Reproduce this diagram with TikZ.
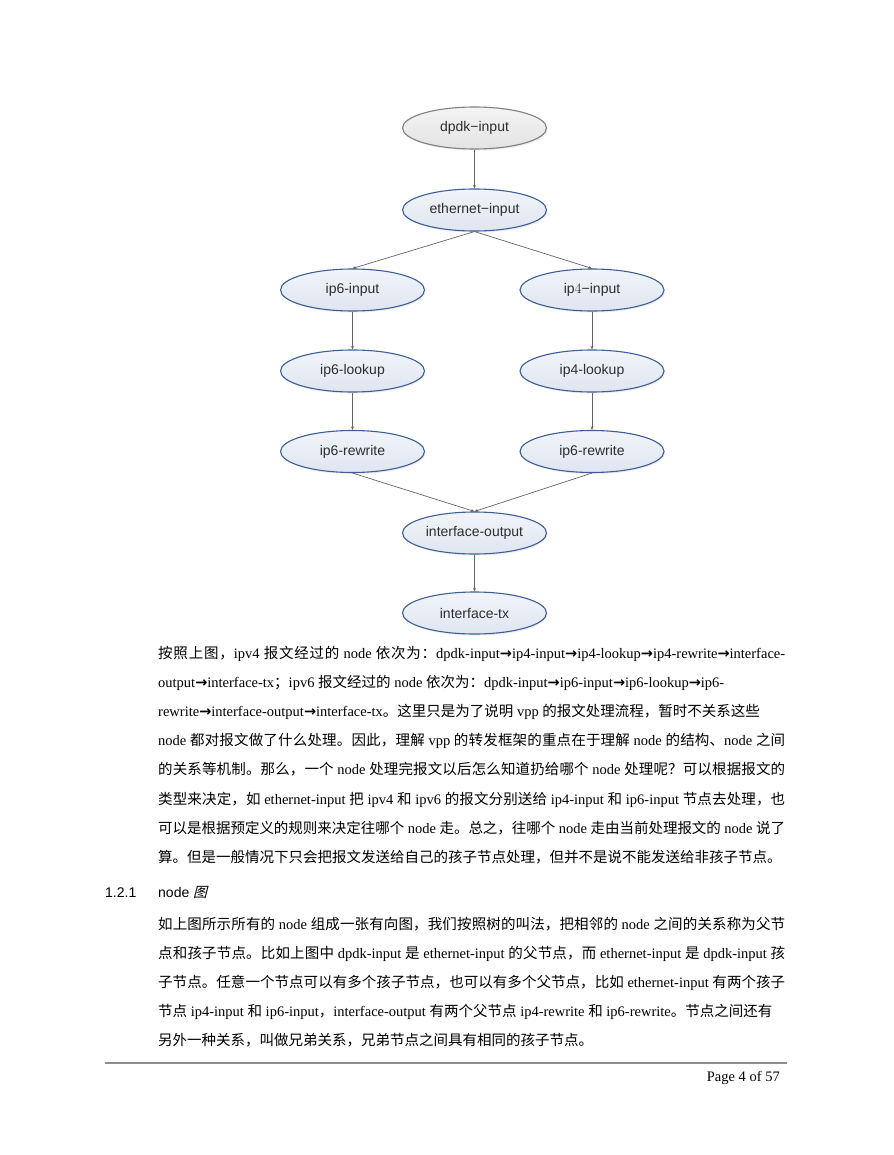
\documentclass[tikz,border=0pt]{standalone}
\usepackage{fontspec}
\setmainfont{Liberation Serif}
\newfontfamily\cjk{Noto Sans CJK SC}
\newfontfamily\cjksl{Noto Sans CJK SC}[FakeSlant=0.25]
\newfontfamily\diagf{Liberation Sans}
\newfontfamily\arrowf{DejaVu Sans}
\usetikzlibrary{shapes.geometric,arrows.meta,shadows}
\XeTeXinterchartokenstate=1
\newXeTeXintercharclass\cjkc
\newcount\mycnt
\mycnt="3000
\loop\ifnum\mycnt<"A000 \XeTeXcharclass\mycnt=\cjkc\advance\mycnt by 1\repeat
\mycnt="FF00
\loop\ifnum\mycnt<"FFF0 \XeTeXcharclass\mycnt=\cjkc\advance\mycnt by 1\repeat
\XeTeXinterchartoks\cjkc\cjkc={\hskip0pt plus 3pt minus 0.4pt\relax}
\newcommand\zh[1]{{\cjk #1}}
\newcommand\ar{{\arrowf\bfseries →}}
\newcommand\jl[1]{\hbox to 627pt{#1}}
\definecolor{ndblue}{HTML}{3D5F97}
\definecolor{ndtop}{HTML}{F1F4F9}
\definecolor{ndbot}{HTML}{DFE6F1}
\definecolor{grayb}{HTML}{808080}
\definecolor{graytop}{HTML}{F4F4F4}
\definecolor{graybot}{HTML}{E3E3E3}
\definecolor{edgec}{HTML}{666666}
\definecolor{ndtext}{HTML}{2E2E2E}
\definecolor{rulec}{HTML}{8C8C8C}
\tikzset{
  nd/.style={ellipse, draw=ndblue, line width=1.1pt, top color=ndtop, bottom color=ndbot,
    minimum width=144pt, minimum height=42pt, inner sep=0pt,
    font=\diagf\fontsize{14}{16}\selectfont, text=ndtext,
    drop shadow={opacity=0.15, shadow xshift=1.2pt, shadow yshift=-1.5pt}},
  ndgray/.style={nd, draw=grayb, top color=graytop, bottom color=graybot},
  edge/.style={draw=edgec, line width=0.7pt, -{Stealth[length=3.5pt,width=3pt]}},
  txt/.style={anchor=base west, inner sep=0pt, font=\fontsize{14.5}{17}\selectfont},
  head/.style={anchor=base west, inner sep=0pt, font=\diagf\fontsize{14}{16}\selectfont},
}
\begin{document}
\begin{tikzpicture}[x=1pt,y=-1pt]
\fill[white] (0,0) rectangle (893,1155);
\useasboundingbox (0,0) rectangle (893,1155);
% diagram
\node[ndgray] (dpdk) at (474.5,128) {dpdk−input};
\node[nd] (eth) at (474.5,210) {ethernet−input};
\node[nd] (ip6in) at (352.5,290) {ip6-input};
\node[nd] (ip4in) at (592,290) {ip$4$−input};
\node[nd] (ip6lk) at (352.5,371) {ip6-lookup};
\node[nd] (ip4lk) at (592,371) {ip4-lookup};
\node[nd] (ip6rw) at (352.5,451.5) {ip6-rewrite};
\node[nd] (ip4rw) at (592,451.5) {ip6-rewrite};
\node[nd] (ifout) at (474.5,533) {interface-output};
\node[nd] (iftx) at (474.5,613) {interface-tx};
\draw[edge] (dpdk) -- (eth);
\draw[edge] (eth.south) -- (ip6in.north);
\draw[edge] (eth.south) -- (ip4in.north);
\draw[edge] (ip6in) -- (ip6lk);
\draw[edge] (ip4in) -- (ip4lk);
\draw[edge] (ip6lk) -- (ip6rw);
\draw[edge] (ip4lk) -- (ip4rw);
\draw[edge] (ip6rw.south) -- (ifout.north);
\draw[edge] (ip4rw.south) -- (ifout.north);
\draw[edge] (ifout) -- (iftx);
% paragraph 1
\node[txt] (t1) at (158,658) {\jl{\zh{按照上图，}ipv4 \zh{报文经过的} node \zh{依次为：}dpdk-input\ar ip4-input\ar ip4-lookup\ar ip4-rewrite\ar interface-}};
\node[txt] (t2) at (158,687.2) {output\ar interface-tx\zh{；}ipv6 \zh{报文经过的} node \zh{依次为：}dpdk-input\ar ip6-input\ar ip6-lookup\ar ip6-};
\node[txt] (t3) at (158,716.4) {rewrite\ar interface-output\ar interface-tx\zh{。这里只是为了说明} vpp \zh{的报文处理流程，暂时不关系这些}};
\node[txt] (t4) at (158,745.6) {\jl{node \zh{都对报文做了什么处理。因此，理解} vpp \zh{的转发框架的重点在于理解} node \zh{的结构、}node \zh{之间}}};
\node[txt] (t5) at (158,774.8) {\jl{\zh{的关系等机制。那么，一个} node \zh{处理完报文以后怎么知道扔给哪个} node \zh{处理呢？可以根据报文的}}};
\node[txt] (t6) at (158,804) {\jl{\zh{类型来决定，如} ethernet-input \zh{把} ipv4 \zh{和} ipv6 \zh{的报文分别送给} ip4-input \zh{和} ip6-input \zh{节点去处理，也}}};
\node[txt] (t7) at (158,833.2) {\jl{\zh{可以是根据预定义的规则来决定往哪个} node \zh{走。总之，往哪个} node \zh{走由当前处理报文的} node \zh{说了}}};
\node[txt] (t8) at (158,862.4) {\zh{算。但是一般情况下只会把报文发送给自己的孩子节点处理，但并不是说不能发送给非孩子节点。}};
% heading
\node[head] (hnum) at (105,897.5) {1.2.1};
\node[head] (htitle) at (158,897.5) {node {\cjksl 图}};
% paragraph 2
\node[txt] (p1) at (158,929) {\jl{\zh{如上图所示所有的} node \zh{组成一张有向图，我们按照树的叫法，把相邻的} node \zh{之间的关系称为父节}}};
\node[txt] (p2) at (158,958.2) {\jl{\zh{点和孩子节点。比如上图中} dpdk-input \zh{是} ethernet-input \zh{的父节点，而} ethernet-input \zh{是} dpdk-input \zh{孩}}};
\node[txt] (p3) at (158,987.4) {\jl{\zh{子节点。任意一个节点可以有多个孩子节点，也可以有多个父节点，比如} ethernet-input \zh{有两个孩子}}};
\node[txt] (p4) at (158,1016.6) {\zh{节点} ip4-input \zh{和} ip6-input\zh{，}interface-output \zh{有两个父节点} ip4-rewrite \zh{和} ip6-rewrite\zh{。节点之间还有}};
\node[txt] (p5) at (158,1045.8) {\zh{另外一种关系，叫做兄弟关系，兄弟节点之间具有相同的孩子节点。}};
% footer
\draw[rulec, line width=1.8pt] (105,1063) -- (787,1063);
\node[txt, anchor=base east] (pg) at (780,1081) {Page 4 of 57};
\end{tikzpicture}
\end{document}
